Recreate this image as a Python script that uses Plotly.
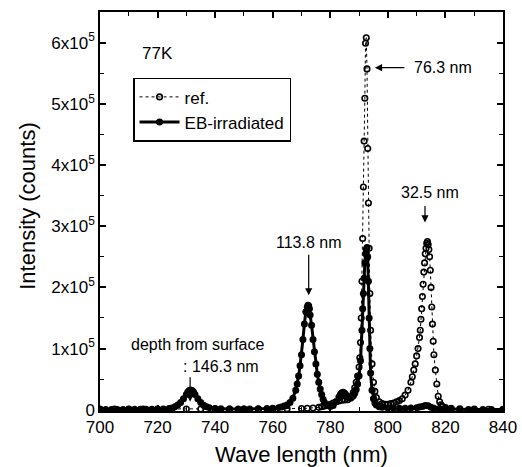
import plotly.graph_objects as go

# ---- data (intensity in counts) ----
ref_wl = [700, 705, 710, 715, 720, 725, 730, 735, 740, 745, 750, 755, 760, 765, 770, 772, 774,
          776, 777, 778, 779, 780, 781, 782, 783, 784, 785, 786, 787, 787.5, 788, 788.5, 789, 789.5,
          790, 790.25, 790.5, 790.75, 791, 791.25, 791.5, 791.75, 792, 792.25, 792.5, 792.75, 793,
          793.25, 793.5, 793.75, 794, 794.5, 795, 795.5, 796, 797, 798, 799, 800, 801, 802, 803, 804,
          805, 806, 807, 808, 808.5, 809, 809.5, 810, 810.5, 811, 811.25, 811.5, 811.75, 812, 812.25,
          812.5, 812.75, 813, 813.25, 813.5, 813.75, 814, 814.25, 814.5, 814.75, 815, 815.25, 815.5,
          815.75, 816, 816.5, 817, 817.5, 818, 818.5, 819, 820, 822, 825, 830, 835, 840]
ref_int = [1000, 1000, 1000, 1000, 1000, 1000, 1200, 1200, 1000, 1000, 1000, 1000, 1200, 1500, 2000, 2500, 3000,
           4000, 5000, 6000, 7500, 9000, 11000, 13000, 14500, 15500, 16000, 16500, 19000, 23000, 28000, 36000, 45000, 55000,
           70000, 85000, 110000, 150000, 210000, 280000, 364000, 439000, 509000, 599000, 608000, 557000, 427000,
           338000, 264000, 190000, 130000, 75000, 45000, 30000, 20000, 13000, 10000, 9000, 9000, 10000, 11000, 13000, 15000,
           18000, 24000, 32000, 45000, 54000, 65000, 75000, 88000, 100000, 118000, 130000, 148000, 165000, 185000, 205000,
           225000, 240000, 255000, 264000, 272000, 275000, 270000, 262000, 250000, 228000, 200000, 168000, 140000,
           112000, 90000, 65000, 42000, 22000, 13000, 8000, 5000, 3500, 2500, 1500, 1000, 800, 600]

eb_wl = [700, 702, 704, 706, 708, 710, 712, 714, 716, 718, 720, 722, 724, 725, 726, 727, 728, 729, 730,
         730.5, 731, 731.5, 732, 732.5, 733, 734, 735, 736, 737, 738, 740, 742, 745, 748, 750, 752, 755,
         758, 760, 762, 763, 764, 765, 766, 767, 768, 768.5, 769, 769.5, 770, 770.5, 771, 771.5, 772,
         772.25, 772.5, 772.75, 773, 773.5, 774, 774.5, 775, 775.5, 776, 776.5, 777, 777.5, 778, 779,
         780, 781, 782, 783, 783.5, 784, 784.5, 785, 785.5, 786, 786.5, 787, 787.5, 788, 788.5, 789,
         789.5, 790, 790.5, 791, 791.25, 791.5, 791.75, 792, 792.25, 792.5, 792.75, 793, 793.25, 793.5,
         793.75, 794, 794.5, 795, 795.5, 796, 797, 798, 800, 802, 804, 806, 808, 810, 811, 812, 813,
         814, 815, 816, 818, 820, 822, 825, 828, 830, 833, 836, 840]
eb_int = [600, 600, 600, 600, 600, 700, 700, 700, 700, 800, 900, 1200, 2000, 3000, 5000, 8000, 12000, 18000, 25000,
          29000, 31500, 32500, 31500, 29000, 25000, 18000, 12000, 7500, 5000, 3500, 2200, 1600, 1200, 1200, 1200, 1300, 1500,
          2000, 2500, 3500, 4500, 6000, 8000, 12000, 19000, 32000, 42000, 55000, 72000, 90000, 115000, 140000, 160000, 168000,
          171000, 170000, 165000, 155000, 138000, 115000, 95000, 75000, 58000, 45000, 34000, 25000, 17000, 12000, 7000,
          5500, 7000, 13000, 21000, 25000, 28000, 28500, 27000, 24000, 21000, 20000, 20000, 21000, 23000, 27000, 33000,
          42000, 55000, 80000, 130000, 165000, 190000, 215000, 240000, 255000, 262000, 265000, 250000, 210000, 150000,
          100000, 60000, 32000, 18000, 11000, 8000, 5000, 4000, 3000, 2500, 2500, 2500, 3000, 3500, 4500, 5500, 7000,
          6500, 4000, 2500, 1500, 1000, 800, 700, 600, 600, 600, 600, 600]

x_ticks = [700, 720, 740, 760, 780, 800, 820, 840]
y_tickvals = [0, 100000, 200000, 300000, 400000, 500000, 600000]
y_ticktext = ["0", "1x10<sup>5</sup>", "2x10<sup>5</sup>", "3x10<sup>5</sup>",
              "4x10<sup>5</sup>", "5x10<sup>5</sup>", "6x10<sup>5</sup>"]

FONT = "Liberation Sans, Arial, Helvetica, sans-serif"

fig = go.Figure()
fig.add_trace(go.Scatter(
    x=ref_wl, y=ref_int, name="ref.", mode="lines+markers",
    line=dict(color="black", width=1, dash="dot"),
    marker=dict(symbol="circle-open", size=5.5, color="black", line=dict(width=1.6)),
))
fig.add_trace(go.Scatter(
    x=eb_wl, y=eb_int, name="EB-irradiated", mode="lines+markers",
    line=dict(color="black", width=3),
    marker=dict(symbol="circle", size=7, color="black"),
))

axis_common = dict(
    showline=True, linecolor="black", linewidth=1.5, mirror="allticks",
    ticks="inside", ticklen=6, tickwidth=1.5, tickcolor="black",
    showgrid=False, zeroline=False, automargin=False,
    tickfont=dict(family=FONT, size=17, color="black"),
)

fig.update_xaxes(
    range=[700, 840], tickvals=x_ticks,
    minor=dict(ticks="inside", ticklen=4, dtick=10, tickcolor="black", tickwidth=1),
    **axis_common,
)
fig.update_yaxes(
    range=[-2000, 650000], tickvals=y_tickvals, ticktext=y_ticktext,
    minor=dict(ticks="inside", ticklen=4, tick0=0, dtick=50000, tickcolor="black", tickwidth=1),
    **axis_common,
)

ann_font = dict(family=FONT, size=16, color="black")
title_font = dict(family=FONT, size=22, color="black")
fig.update_layout(
    width=522, height=467,
    margin=dict(l=100, r=19, t=12, b=56),
    paper_bgcolor="white", plot_bgcolor="white",
    showlegend=True,
    legend=dict(x=0.082, y=0.835, xanchor="left", yanchor="top",
                bgcolor="white", bordercolor="black", borderwidth=1.5,
                font=dict(family=FONT, size=17, color="black"),
                tracegroupgap=0, itemwidth=40),
    annotations=[
        dict(xref="paper", yref="paper", x=0.5, y=-0.11, text="Wave length (nm)", showarrow=False,
             font=title_font, xanchor="center", yanchor="middle"),
        dict(xref="paper", yref="paper", x=-0.179, y=0.514, text="Intensity (counts)", showarrow=False,
             font=title_font, xanchor="center", yanchor="middle", textangle=-90),
        dict(x=720.1, y=583000, text="77K", showarrow=False, font=dict(family=FONT, size=17, color="black"),
             xanchor="center", yanchor="middle"),
        dict(x=795.5, y=559000, ax=31, ay=0, text="", showarrow=True, arrowhead=2, arrowsize=1.2,
             arrowwidth=1.2, arrowcolor="black"),
        dict(x=819.1, y=559000, xanchor="center", yanchor="middle", text="76.3 nm", showarrow=False, font=ann_font),
        dict(x=812.9, y=306000, ax=0, ay=-18, text="", showarrow=True, arrowhead=2, arrowsize=1.2,
             arrowwidth=1.2, arrowcolor="black"),
        dict(x=814.7, y=355000, text="32.5 nm", showarrow=False, font=ann_font, yanchor="middle"),
        dict(x=772.5, y=187000, ax=0, ay=-42, text="", showarrow=True, arrowhead=2, arrowsize=1.2,
             arrowwidth=1.2, arrowcolor="black"),
        dict(x=772.6, y=274000, text="113.8 nm", showarrow=False, font=ann_font, yanchor="middle"),
        dict(x=731.3, y=13000, ax=0, ay=-26, text="", showarrow=True, arrowhead=2, arrowsize=1.2,
             arrowwidth=1.2, arrowcolor="black"),
        dict(x=734.2, y=106000, text="depth from surface", showarrow=False, font=ann_font, yanchor="middle"),
        dict(x=742.0, y=71000, text=": 146.3 nm", showarrow=False, font=ann_font, yanchor="middle"),
    ],
)

fig.write_html("out.html", config={"displayModeBar": False},
               post_script="document.body.style.margin='0px';")
